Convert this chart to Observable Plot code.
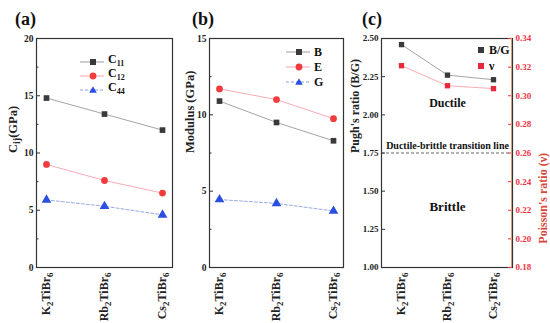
<!DOCTYPE html>
<html><head><meta charset="utf-8">
<script src="https://cdn.jsdelivr.net/npm/d3@7"></script>
<script src="https://cdn.jsdelivr.net/npm/@observablehq/plot@0.6"></script>
<style>
body{margin:0;background:#fff;}
#wrap{position:relative;width:550px;height:323px;font-family:"Liberation Serif","Times New Roman","DejaVu Serif",serif;font-weight:bold;color:#111;overflow:hidden;}
.panel{position:absolute;top:0;overflow:visible;}
.plab{position:absolute;font-size:18px;line-height:18px;}
.leg{position:absolute;font-size:12px;line-height:12px;display:flex;align-items:center;white-space:nowrap;}
.leg svg{margin-right:4px;}
.leg sub{font-size:8px;vertical-align:-3px;}
</style></head><body><div id="wrap"></div>
<script>
// ---------- data ----------
const compounds = ["K2TiBr6", "Rb2TiBr6", "Cs2TiBr6"];
const C11 = [14.8, 13.4, 12.0];
const C12 = [9.0, 7.6, 6.5];
const C44 = [5.9, 5.35, 4.6];
const bulkB = [10.9, 9.5, 8.3];
const youngE = [11.7, 11.0, 9.75];
const shearG = [4.45, 4.2, 3.7];
const pughBG = [2.46, 2.26, 2.23];
const poissonNu = [0.321, 0.307, 0.305];
const ticksA = [0, 5, 10, 15, 20], minorA = [2.5, 7.5, 12.5, 17.5];
const ticksB = [0, 5, 10, 15], minorB = [2.5, 7.5, 12.5];
const ticksC = [1.00, 1.25, 1.50, 1.75, 2.00, 2.25, 2.50];
const ticksNu = [0.18, 0.20, 0.22, 0.24, 0.26, 0.28, 0.30, 0.32, 0.34];
const transitionBG = [1.75];
const regionNotes = [
  {label: "Ductile", y: 2.075, size: 12},
  {label: "Ductile-brittle transition line", y: 1.795, size: 10},
  {label: "Brittle", y: 1.395, size: 13}
];

const rows = (vals) => compounds.map((c, i) => ({compound: c, value: vals[i]}));

const DARK = "#3a3a3a", GRAYLINE = "#9a9a9a";
const RED = "#f03c3c", PINK = "#f5a3aa";
const BLUE = "#2b4fe0", LBLUE = "#8a9fe0";
const AXRED = "#ee3344";
const FONT = '"Liberation Serif", "Times New Roman", "DejaVu Serif", serif';

function subify(el, s, subSize) {
  while (el.firstChild) el.removeChild(el.firstChild);
  const parts = s.split(/(\{[^}]*\})/).filter(p => p.length);
  let shifted = false;
  for (const p of parts) {
    const t = document.createElementNS("http://www.w3.org/2000/svg", "tspan");
    if (p.startsWith("{")) {
      t.textContent = p.slice(1, -1);
      t.setAttribute("font-size", subSize);
      if (!shifted) { t.setAttribute("dy", "3"); shifted = true; }
    } else {
      t.textContent = p;
      if (shifted) { t.setAttribute("dy", "-3"); shifted = false; }
    }
    el.appendChild(t);
  }
}
function fixTicks(svg) {
  svg.querySelectorAll('g[aria-label="x-axis tick label"] text').forEach(t => {
    subify(t, t.textContent.replace(/(\d)/g, "{$1}"), 9);
  });
  svg.querySelectorAll('text').forEach(t => {
    if (/\{/.test(t.textContent)) subify(t, t.textContent, 10);
  });
}

function basePanel({width, ml, mr, yDomain, ticks, minor, fmt, title, titleDx, marks}) {
  const W = width - ml - mr;
  const p = Plot.plot({
    width, height: 323, marginLeft: ml, marginRight: mr, marginTop: 38, marginBottom: 56,
    x: {type: "point", domain: compounds, padding: 0.16},
    y: {domain: yDomain},
    style: {fontFamily: FONT, fontWeight: "bold", fontSize: "9px", background: "transparent", color: "#222", overflow: "visible"},
    marks: [
      Plot.axisY({ticks, tickSize: 0, tickPadding: 3, fontSize: 9.5, tickFormat: fmt, label: null}),
      Plot.ruleY(ticks, {y: d => d, insetRight: W - 4, stroke: "#333"}),
      Plot.ruleY(minor, {y: d => d, insetRight: W - 2.5, stroke: "#333"}),
      Plot.axisX({tickSize: 0, tickPadding: 5, tickRotate: -90, fontSize: 12, label: null}),
      Plot.text([title], {text: d => d, frameAnchor: "left", rotate: -90, dx: titleDx, fontSize: 12.5}),
      ...marks,
      Plot.frame({stroke: "#333", strokeWidth: 1.2})
    ]
  });
  fixTicks(p);
  return p;
}

const wrap = document.getElementById("wrap");
function place(el, left) { el.classList.add("panel"); el.style.left = left + "px"; wrap.appendChild(el); }

// ---------- panel (a) ----------
place(basePanel({
  width: 180, ml: 36, mr: 8, yDomain: [0, 20], ticks: ticksA, minor: minorA, fmt: d => d,
  title: "C{ij}(GPa)", titleDx: -24,
  marks: [
    Plot.line(rows(C11), {x: "compound", y: "value", stroke: GRAYLINE, strokeWidth: 0.9}),
    Plot.line(rows(C12), {x: "compound", y: "value", stroke: PINK, strokeWidth: 0.9}),
    Plot.line(rows(C44), {x: "compound", y: "value", stroke: LBLUE, strokeWidth: 0.9, strokeDasharray: "3,2"}),
    Plot.dot(rows(C11), {x: "compound", y: "value", symbol: "square", r: 3.2, fill: DARK}),
    Plot.dot(rows(C12), {x: "compound", y: "value", symbol: "circle", r: 3.4, fill: RED}),
    Plot.dot(rows(C44), {x: "compound", y: "value", symbol: "triangle", r: 3.6, fill: BLUE})
  ]
}), 0);

// ---------- panel (b) ----------
place(basePanel({
  width: 170, ml: 29, mr: 7, yDomain: [0, 15], ticks: ticksB, minor: minorB, fmt: d => d,
  title: "Modulus (GPa)", titleDx: -20,
  marks: [
    Plot.line(rows(bulkB), {x: "compound", y: "value", stroke: GRAYLINE, strokeWidth: 0.9}),
    Plot.line(rows(youngE), {x: "compound", y: "value", stroke: PINK, strokeWidth: 0.9}),
    Plot.line(rows(shearG), {x: "compound", y: "value", stroke: LBLUE, strokeWidth: 0.9, strokeDasharray: "3,2"}),
    Plot.dot(rows(bulkB), {x: "compound", y: "value", symbol: "square", r: 3.2, fill: DARK}),
    Plot.dot(rows(youngE), {x: "compound", y: "value", symbol: "circle", r: 3.4, fill: RED}),
    Plot.dot(rows(shearG), {x: "compound", y: "value", symbol: "triangle", r: 3.6, fill: BLUE})
  ]
}), 180);

// ---------- panel (c) ----------
const cW = 200, cML = 31, cMR = 38;
const cFrameW = cW - cML - cMR;
const pc = Plot.plot({
  width: cW, height: 323, marginLeft: cML, marginRight: cMR, marginTop: 38, marginBottom: 56,
  x: {type: "point", domain: compounds, padding: 0.4},
  y: {domain: [1.0, 2.5]},
  style: {fontFamily: FONT, fontWeight: "bold", fontSize: "9px", background: "transparent", color: "#222", overflow: "visible"},
  marks: [
    Plot.axisY({ticks: ticksC, tickSize: 0, tickPadding: 3, fontSize: 9, tickFormat: d3.format(".2f"), label: null}),
    Plot.ruleY(ticksC, {y: d => d, insetRight: cFrameW - 4, stroke: "#333"}),
    Plot.axisX({tickSize: 0, tickPadding: 5, tickRotate: -90, fontSize: 12, label: null}),
    Plot.text(["Pugh's ratio (B/G)"], {text: d => d, frameAnchor: "left", rotate: -90, dx: -26, fontSize: 12}),
    Plot.ruleY(transitionBG, {y: d => d, stroke: "#555", strokeDasharray: "3,2", strokeWidth: 0.9}),
    Plot.text(regionNotes, {x: () => compounds[1], y: "y", text: "label", fontSize: "size", fill: "#111"}),
    Plot.line(rows(pughBG), {x: "compound", y: "value", stroke: GRAYLINE, strokeWidth: 0.9}),
    Plot.dot(rows(pughBG), {x: "compound", y: "value", symbol: "square", r: 3.0, fill: DARK}),
    Plot.frame({stroke: "#333", strokeWidth: 1.2})
  ]
});
fixTicks(pc);
place(pc, 350);

const pnu = Plot.plot({
  width: cW, height: 323, marginLeft: cML, marginRight: cMR, marginTop: 38, marginBottom: 56,
  x: {type: "point", domain: compounds, padding: 0.4, axis: null},
  y: {domain: [0.18, 0.34], axis: null},
  style: {fontFamily: FONT, fontWeight: "bold", fontSize: "9px", background: "transparent", overflow: "visible"},
  marks: [
    Plot.axisY({anchor: "right", ticks: ticksNu, tickSize: 0, tickPadding: 3, fontSize: 9, fill: AXRED, tickFormat: d3.format(".2f"), label: null}),
    Plot.ruleY(ticksNu, {y: d => d, insetLeft: cFrameW - 4, stroke: AXRED}),
    Plot.text(["Poisson's ratio (\u03bd)"], {text: d => d, frameAnchor: "right", rotate: -90, dx: 31, fontSize: 12, fill: "#d9473b"}),
    Plot.line(rows(poissonNu), {x: "compound", y: "value", stroke: PINK, strokeWidth: 0.9}),
    Plot.dot(rows(poissonNu), {x: "compound", y: "value", symbol: "square", r: 3.0, fill: "#e8283c"})
  ]
});
place(pnu, 350);
const rightEdge = document.createElement("div");
rightEdge.style.cssText = `position:absolute;left:${350 + cW - cMR - 1}px;top:38px;width:1.2px;height:229px;background:#d0a080;`;
wrap.appendChild(rightEdge);

// ---------- panel labels ----------
[["(a)", 15, 10], ["(b)", 192, 10], ["(c)", 362, 10]].forEach(([t, x, y]) => {
  const d = document.createElement("div"); d.className = "plab"; d.textContent = t;
  d.style.left = x + "px"; d.style.top = y + "px"; wrap.appendChild(d);
});

// ---------- legends ----------
function markerSVG(shape, fill, line, dashed) {
  const w = line ? 24 : 8;
  const cx = line ? 13 : 4;
  let m;
  if (shape === "square") m = `<rect x="${cx - 3}" y="3" width="6" height="6" fill="${fill}"/>`;
  else if (shape === "circle") m = `<circle cx="${cx}" cy="6" r="3.4" fill="${fill}"/>`;
  else m = `<path d="M${cx},2.2L${cx + 3.8},8.8L${cx - 3.8},8.8Z" fill="${fill}"/>`;
  const l = line ? `<line x1="0" y1="6" x2="${w}" y2="6" stroke="${line}" stroke-width="1" ${dashed ? 'stroke-dasharray="3,2"' : ''}/>` : "";
  return `<svg width="${w}" height="12">${l}${m}</svg>`;
}
function legend(items, left, tops) {
  items.forEach((it, i) => {
    const d = document.createElement("div"); d.className = "leg";
    d.style.left = left + "px"; d.style.top = (tops[i] - 6) + "px";
    d.innerHTML = markerSVG(it.shape, it.fill, it.line, it.dashed) + `<span style="color:${it.color || '#111'}">${it.label}</span>`;
    wrap.appendChild(d);
  });
}
legend([
  {shape: "square", fill: DARK, line: GRAYLINE, label: "C<sub>11</sub>"},
  {shape: "circle", fill: RED, line: PINK, label: "C<sub>12</sub>"},
  {shape: "triangle", fill: BLUE, line: LBLUE, dashed: true, label: "C<sub>44</sub>"}
], 80, [59, 73, 87]);
legend([
  {shape: "square", fill: DARK, line: GRAYLINE, label: "B"},
  {shape: "circle", fill: RED, line: PINK, label: "E"},
  {shape: "triangle", fill: BLUE, line: LBLUE, dashed: true, label: "G"}
], 286, [52, 67, 82]);
legend([
  {shape: "square", fill: DARK, label: "B/G"},
  {shape: "square", fill: "#e8283c", label: "\u03bd"}
], 477, [50, 66]);
</script></body></html>
